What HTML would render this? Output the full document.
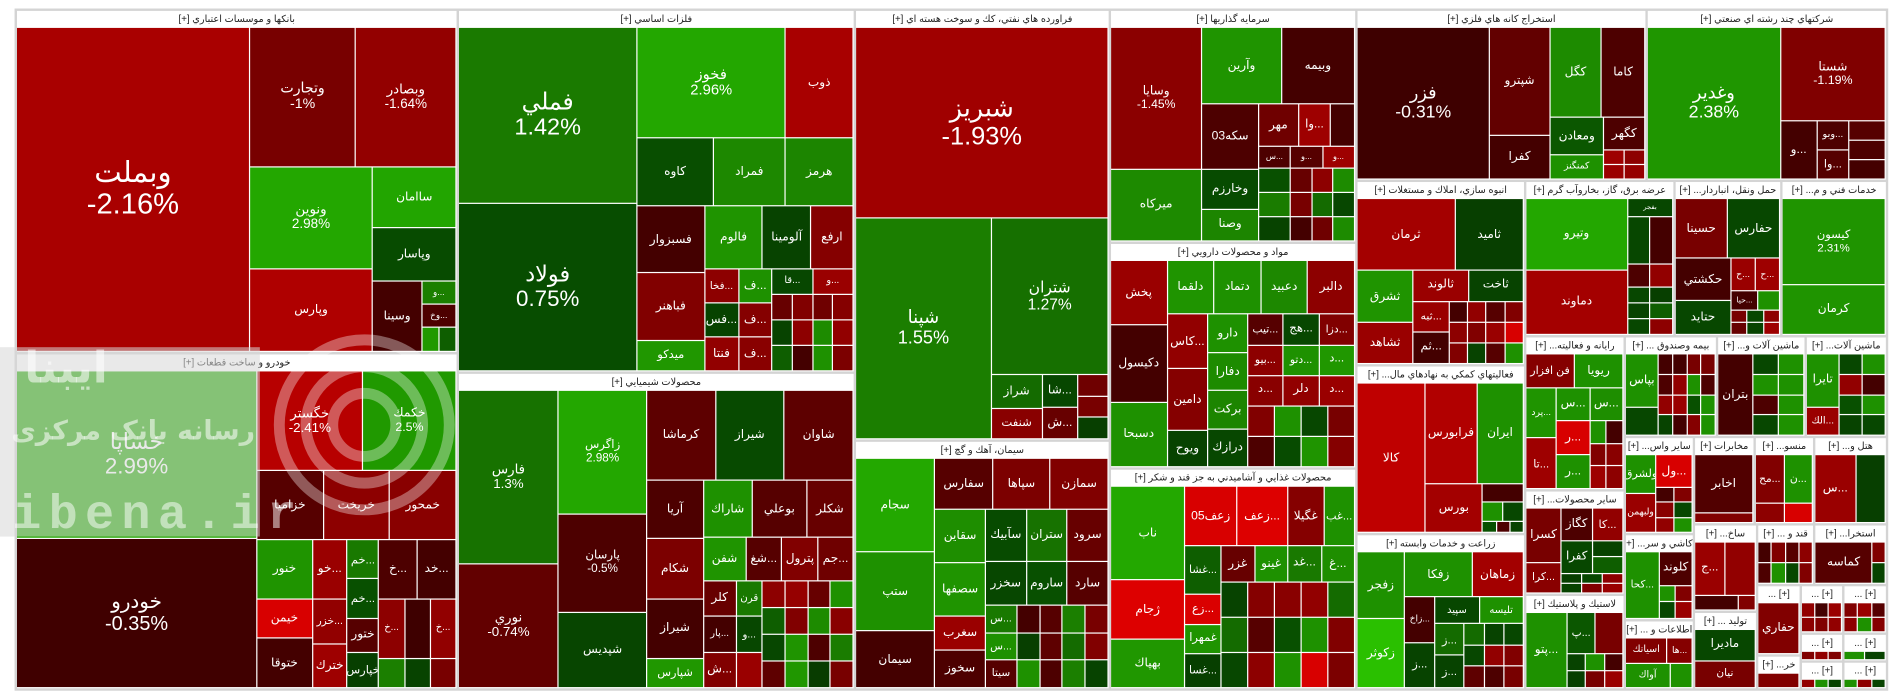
<!DOCTYPE html>
<html><head><meta charset="utf-8">
<style>
html,body{margin:0;padding:0;background:#fff;width:1904px;height:698px;overflow:hidden}
#tm{position:absolute;left:0;top:0;width:1568px;height:575px;transform:scale(1.21429,1.21391);transform-origin:0 0;font-family:"Liberation Sans","DejaVu Sans",sans-serif}
#frame{position:absolute;left:12px;top:7px;width:1543px;height:562px;background:#d4d4d4}
.sec{position:absolute;background:#fff;overflow:hidden}
.hdr{position:absolute;left:0;top:0;right:0;height:14px;font-size:8px;line-height:14px;text-align:center;direction:rtl;color:#222;white-space:nowrap;overflow:hidden;background:#fff}
.cell{position:absolute;overflow:hidden;color:#fff;display:flex;flex-direction:column;align-items:center;justify-content:center;text-align:center;line-height:1.1;white-space:nowrap}
.wm{position:absolute;pointer-events:none}
</style></head><body>
<div id="tm"><div id="frame"></div>
<div class="wm" style="left:0;top:286px;width:214px;height:156px;background:rgba(215,215,215,0.55)"></div>
<svg class="wm" style="left:0;top:270px" width="400" height="190">
<g fill="none" stroke="rgba(255,255,255,0.35)" stroke-width="9"><circle cx="300" cy="80" r="70"/><circle cx="300" cy="80" r="48"/><circle cx="300" cy="80" r="26"/></g>
<text x="20" y="45" font-size="36" font-weight="bold" fill="rgba(255,255,255,0.55)" font-family="DejaVu Sans">ايبنا</text>
<text x="10" y="92" font-size="22" font-weight="bold" fill="rgba(255,255,255,0.55)" font-family="DejaVu Sans" direction="rtl" text-anchor="start" transform="translate(200,0)">رسانه بانک مرکزی</text>
<text x="10" y="165" font-size="40" font-weight="bold" fill="rgba(255,255,255,0.5)" font-family="Liberation Mono" letter-spacing="6">ibena.ir</text>
</svg>
</div>
<script>
// sector titles
const sectorNames=["بانكها و موسسات اعتباري [+]","خودرو و ساخت قطعات [+]","فلزات اساسي [+]","محصولات شيميايي [+]","فراورده هاي نفتي، كك و سوخت هسته اي [+]","سيمان، آهك و گچ [+]","سرمايه گذاريها [+]","مواد و محصولات دارويي [+]","محصولات غذايي و آشاميدني به جز قند و شكر [+]","استخراج كانه هاي فلزي [+]","شركتهاي چند رشته اي صنعتي [+]","انبوه سازي، املاك و مستغلات [+]","فعاليتهاي كمكي به نهادهاي مال... [+]","زراعت و خدمات وابسته [+]","عرضه برق، گاز، بخاروآب گرم [+]","حمل ونقل، انباردار... [+]","خدمات فني و م... [+]","رايانه و فعاليته... [+]","ساير محصولات... [+]","لاستيك و پلاستيك [+]","بيمه وصندوق ... [+]","ماشين آلات و... [+]","ماشين آلات... [+]","ساير واس... [+]","مخابرات [+]","منسو... [+]","هتل و... [+]","كاشي و سر... [+]","اطلاعات و ... [+]","ساخ... [+]","توليد ... [+]","قند و ... [+]","استخرا... [+]","[+] ...","[+] ...","[+] ...","[+] ...","[+] ...","خر... [+]","[+] ...","[+] ..."];
// sector boxes [x,y,w,h] (display units)
const sectorBoxes=[[13,8,364,283],[13,291,364,277],[377,8,327,299],[377,307,327,261],[704,8,210,355],[704,363,210,205],[914,8,203,192],[914,200,203,186],[914,386,203,182],[1117,8,239,141],[1356,8,198,141],[1117,149,139,152],[1117,301,139,139],[1117,440,139,128],[1256,149,123,128],[1379,149,88,128],[1467,149,87,128],[1256,277,82,127],[1256,404,82,86],[1256,490,82,78],[1338,277,76,83],[1414,277,73,83],[1487,277,67,83],[1338,360,57,80],[1395,360,50,72],[1445,360,49,72],[1494,360,60,72],[1338,440,57,71],[1338,511,57,57],[1395,432,52,72],[1395,504,52,64],[1447,432,47,50],[1494,432,60,50],[1447,482,36,58],[1483,482,35,40],[1518,482,36,40],[1483,522,35,23],[1518,522,36,23],[1447,540,36,28],[1483,545,35,23],[1518,545,36,23]];
// trees: leaf = [symbol, change%, weight]; node = {d:'h'|'v'|'g', w, c}
const sectorTrees=[
{d:'h',c:[['وبملت',-2.16,193],{d:'v',w:171,c:[{d:'h',w:116,c:[['وتجارت',-1,88],['وبصادر',-1.64,83]]},{d:'h',w:153,c:[{d:'v',w:102,c:[['ونوين',2.98,84],['وپارس',-2.28,69]]},{d:'v',w:69,c:[['ساامان',2.9,50],['وپاسار',0.7,45],{d:'h',w:58,c:[['وسينا',-0.4,40],{d:'v',w:28,c:[['و...',1.6,17],['وخ...',-0.5,17],{d:'h',w:18,c:[['',2.5,1],['',1,1]]}]}]}]}]}]}]},
{d:'h',c:[{d:'v',w:199,c:[['خساپا',2.99,139],['خودرو',-0.35,124]]},{d:'v',w:165,c:[{d:'h',w:83,c:[['خگستر',-2.41,88],['خكمك',2.5,77]]},{d:'h',w:57,c:[['خزاميا',-0.6,55],['خريخت',-1.5,55],['خمحور',-1.4,55]]},{d:'h',w:123,c:[{d:'v',w:46,c:[['خنور',2.3,30],['خيمن',-3,20],['ختوقا',-0.4,25]]},{d:'v',w:29,c:[['خو...',-1.8,30],['خزر...',-1.6,23],['خترك',-1.9,22]]},{d:'v',w:26,c:[['خم...',1.4,20],['خم...',0.8,20],['ختور',-0.6,17],['خپارس',0.4,18]]},{d:'v',w:64,c:[{d:'h',w:30,c:[['خ...',-0.5,1],['خد...',-0.4,1]]},{d:'h',w:30,c:[['خ...',-1.5,1],['',-0.3,1],['خ...',-1.6,1]]},{d:'h',w:15,c:[['',1.6,1],['',0.5,1],['',-1,1]]}]}]}]}]},
{d:'h',c:[{d:'v',w:148,c:[['فملي',1.42,146],['فولاد',0.75,139]]},{d:'v',w:179,c:[{d:'h',w:92,c:[['فخوز',2.96,123],['ذوب',-2.13,56]]},{d:'h',w:56,c:[['كاوه',0.77,63],['فمراد',1.9,60],['هرمز',1.8,56]]},{d:'h',w:137,c:[{d:'v',w:56,c:[['فسبزوار',-0.4,56],['فباهنر',-1.2,57],['ميدكو',2.4,25]]},{d:'v',w:123,c:[{d:'h',w:52,c:[['فالوم',2.3,48],['آلومينا',0.5,40],['ارفع',-1.3,35]]},{d:'h',w:85,c:[{d:'v',w:28,c:[['فخا...',-1.5,1],['فس...',0.5,1],['فنتا',-1.6,1]]},{d:'v',w:28,c:[['ف...',2.2,1],['ف...',-1.3,1],['ف...',-1.4,1]]},{d:'v',w:67,c:[{d:'h',w:1,c:[['قا...',0.6,1],['و...',-1.8,1]]},{d:'g',w:3,cols:4,c:[-0.8,-1.2,-0.9,-1.3,0.5,-1.5,2,-1.6,1,-0.4,2.2,-1.1]}]}]}]}]}]}]},
{d:'h',c:[{d:'v',w:83,c:[['فارس',1.3,142],['نوري',-0.74,102]]},{d:'v',w:73,c:[['زاگرس',2.98,102],['پارسان',-0.5,80],['شپديس',0.55,62]]},{d:'v',w:171,c:[{d:'h',w:74,c:[['كرماشا',-0.69,57],['شيراز',0.66,57],['شاوان',-0.69,57]]},{d:'h',w:170,c:[{d:'v',w:47,c:[['آريا',-0.5,49],['شكام',-1.1,52],['شيراز',-0.4,50],['شپارس',2.4,25]]},{d:'v',w:124,c:[{d:'h',w:47,c:[['شاراك',2.2,40],['بوعلي',-0.6,45],['شكلر',-0.8,38]]},{d:'h',w:35,c:[['شفن',2.3,35],['شغ...',-0.6,30],['پترول',-1.2,30],['جم...',-0.9,29]]},{d:'h',w:88,c:[{d:'v',w:27,c:[['كلر',-0.8,1],['پار...',-0.4,1],['ش...',-1.2,1]]},{d:'v',w:22,c:[['قرن',1.4,1],['و...',0.6,1],['',-1.8,1]]},{d:'g',w:75,cols:4,c:[-1.5,-1.7,-0.8,2.2,1,-1.2,2,-1.4,0.6,2.3,-0.5,1.5,-0.7,2.4,0.3,-1]}]}]}]}]}]},
{d:'v',c:[['شبريز',-1.93,158],{d:'h',w:183,c:[['شپنا',1.55,113],{d:'v',w:97,c:[['شتران',1.27,130],{d:'h',w:53,c:[{d:'v',w:42,c:[['شراز',1.2,28],['شنفت',-1.4,25]]},{d:'v',w:30,c:[['شا...',0.6,1],['ش...',-0.8,1]]},{d:'v',w:25,c:[['',-0.9,1],['',-1,1],['',0.4,1]]}]}]}]}]},
{d:'h',c:[{d:'v',w:66,c:[['سجام',2.99,78],['ستپ',2.2,66],['سيمان',-0.4,47]]},{d:'v',w:144,c:[{d:'h',w:42,c:[['سفارس',-0.6,1],['سپاها',-1.1,1],['سمازن',-1.2,1]]},{d:'h',w:149,c:[{d:'v',w:42,c:[['سقاين',2.1,40],['سصفها',2.3,40],['سغرب',-1.8,25],['سخوز',-0.5,28]]},{d:'v',w:102,c:[{d:'h',w:36,c:[['سآبيك',0.7,1],['ستران',1.3,1],['سرود',-0.8,1]]},{d:'h',w:30,c:[['سخزر',0.6,1],['ساروم',0.8,1],['سارد',-0.6,1]]},{d:'h',w:56,c:[{d:'v',w:26,c:[['س...',1.4,1],['س...',2.2,1],['سيتا',-0.6,1]]},{d:'g',w:76,cols:4,c:[-0.4,-0.6,1.6,-1,0.4,-0.7,1.2,-1.2,2.2,-0.5,1.6,0.5]}]}]}]}]}]},
{d:'h',c:[{d:'v',w:76,c:[['وسايا',-1.45,118],['ميركاه',1.96,60]]},{d:'v',w:127,c:[{d:'h',w:64,c:[['وآرين',2.3,66],['وبيمه',-0.4,61]]},{d:'h',w:114,c:[{d:'v',w:47,c:[['سكه03',-0.5,54],['وخارزم',0.7,34],['وصنا',1.8,26]]},{d:'v',w:80,c:[{d:'h',w:35,c:[['مهر',-0.9,1],['وا...',-1.9,0.8],['',-0.4,0.6]]},{d:'h',w:18,c:[['س...',-0.5,1],['و...',-0.6,1],['و...',-1.9,1]]},{d:'h',w:61,c:[{d:'v',w:1,c:[['',0.8,1],['',1.5,1],['',0.5,1]]},{d:'g',w:2,cols:3,c:[-0.8,-1.5,2,-1,1.2,0.6,-0.4,-0.9,2]}]}]}]}]}]},
{d:'h',c:[{d:'v',w:47,c:[['پخش',-1.8,54],['دكيسول',-0.4,64],['دسبحا',2.2,54]]},{d:'v',w:156,c:[{d:'h',w:45,c:[['دلقما',2.3,1],['دتماد',2.2,1],['دعبيد',1.9,1],['دالبر',-1.5,1]]},{d:'h',w:127,c:[{d:'v',w:34,c:[['كاس...',-1.6,40],['دامين',-1.3,45],['ويوح',0.5,27]]},{d:'v',w:33,c:[['دارو',2.2,1],['دفارا',2.0,1],['بركت',1.8,1],['درازك',0.6,1]]},{d:'v',w:89,c:[{d:'h',w:1,c:[['تيب...',-0.6,1],['هج...',0.6,1],['دزا...',-1.2,1]]},{d:'h',w:1,c:[['بيو...',-1.5,1],['دتو...',2.2,1],['د...',2.4,1]]},{d:'h',w:1,c:[['د...',-1.4,1],['دلر',-1.6,1],['د...',-1.8,1]]},{d:'g',w:2,cols:4,c:[-1.2,2.2,0.6,-1,-0.5,0.7,2.3,-1.3]}]}]}]}]},
{d:'h',c:[{d:'v',w:62,c:[['ناب',2.99,78],['ژجام',-3.2,50],['بهپاك',2.4,40]]},{d:'v',w:141,c:[{d:'h',w:50,c:[['زعف05',-3,1],['زعف...',-3.2,1],['غگيلا',-1.3,0.7],['غب...',2.2,0.6]]},{d:'h',w:118,c:[{d:'v',w:30,c:[['غشا...',1,40],['زع...',-3.1,25],['غمهرا',2.3,25],['غسا...',0.4,28]]},{d:'v',w:111,c:[{d:'h',w:1,c:[['غزر',-0.8,1],['غينو',2.2,1],['غد...',1.4,1],['غ...',2.1,1]]},{d:'g',w:3,cols:5,c:[0.5,-1.3,-1.4,-1.6,1.2,1.2,-0.6,0.8,2.2,-1.2,0.6,-1.5,2.2,-3,-1.1]}]}]}]}]},
{d:'h',c:[['فزر',-0.31,110],{d:'v',w:50,c:[['شپترو',-0.75,90],['كفرا',-0.4,37]]},{d:'v',w:79,c:[{d:'h',w:75,c:[['كگل',2.0,43],['كاما',-0.5,36]]},{d:'h',w:52,c:[{d:'v',w:45,c:[['ومعادن',0.9,32],['كمنگنز',2.2,20]]},{d:'v',w:34,c:[['كگهر',-0.5,28],{d:'g',w:24,cols:2,c:[-1.9,-1.5,-1.8,-1.7]}]}]}]}]},
{d:'h',c:[['وغدير',2.38,111],{d:'v',w:87,c:[['شستا',-1.19,78],{d:'h',w:49,c:[{d:'v',w:30,c:[['و...',-0.4,1]]},{d:'v',w:27,c:[['وبو...',-0.5,1],['وا...',-0.6,1]]},{d:'v',w:30,c:[['',-0.6,1],['',-0.5,1],['',-0.4,1]]}]}]}]},
{d:'v',c:[{d:'h',w:60,c:[['ثرمان',-2.04,82],['ثاميد',0.4,57]]},{d:'h',w:78,c:[{d:'v',w:47,c:[['ثشرق',2.3,44],['ثشاهد',-1.8,34]]},{d:'v',w:92,c:[{d:'h',w:26,c:[['ثالوند',-1.8,1],['ثاخت',0.5,1]]},{d:'h',w:52,c:[{d:'v',w:30,c:[['ثبه...',-1.8,1],['ثم...',-0.4,1]]},{d:'g',w:62,cols:4,c:[-0.4,-1.6,-0.6,-1.2,-1.5,-1.2,-1.8,-3,-1.2,0.5,-0.6,2.2]}]}]}]}]},
{d:'h',c:[['كالا',-2.55,57],{d:'v',w:82,c:[{d:'h',w:84,c:[['فرابورس',-2.3,1],['ايران',2.2,0.9]]},{d:'h',w:41,c:[['بورس',-2,48],{d:'v',w:34,c:[['',-0.4,1],{d:'h',w:1,c:[['',2.2,1],['',0.6,1]]},{d:'h',w:0.6,c:[['',0.8,1],['',-0.5,1],['',0.5,1]]}]}]}]}]},
{d:'h',c:[{d:'v',w:40,c:[['زفجر',2.2,56],['زكوثر',3.6,58]]},{d:'v',w:99,c:[{d:'h',w:38,c:[['زفكا',2.2,56],['زماهان',-2,43]]},{d:'h',w:76,c:[{d:'v',w:25,c:[['زاخ...',-0.4,1],['ز...',0.5,1]]},{d:'v',w:74,c:[{d:'h',w:22,c:[['سپيد',0.6,1],['تليسه',2.2,1]]},{d:'h',w:54,c:[{d:'v',w:1,c:[['ز...',1.2,1],['ز...',0.5,1]]},{d:'g',w:2,cols:3,c:[1.2,0.5,0.6,0.6,-1.6,-1.2,-0.7,-0.5,-1]}]}]}]}]}]},
{d:'h',c:[{d:'v',w:85,c:[['وتيرو',2.98,60],['دماوند',-2.04,54]]},{d:'v',w:38,c:[['بفجر',0.6,15],{d:'h',w:40,c:[['',0.6,1],['',-0.4,1]]},{d:'h',w:20,c:[['',-0.5,1],['',-1.6,1]]},{d:'g',w:40,cols:2,c:[0.6,0.4,0.5,1,0.6,-1.5]}]}]},
{d:'v',c:[{d:'h',w:50,c:[['حسينا',-1,1],['حفارس',0.6,1]]},{d:'h',w:64,c:[{d:'v',w:47,c:[['حكشتي',-0.4,36],['حتايد',0.6,28]]},{d:'v',w:41,c:[{d:'h',w:27,c:[['ح...',-1.8,1],['ح...',-1.9,1]]},{d:'h',w:17,c:[['حيا...',-0.4,1],['',2.2,0.8]]},{d:'g',w:20,cols:3,c:[-1,0.6,-1.5,-0.8,0.5,-1.9]}]}]}]},
{d:'v',c:[['كيسون',2.31,72],['كرمان',2.3,42]]},
{d:'v',c:[{d:'h',w:28,c:[['فن افزار',-1.3,1],['ريويا',2.2,1]]},{d:'h',w:85,c:[{d:'v',w:26,c:[['پرد...',2.3,1],['تا...',-1.9,1]]},{d:'v',w:56,c:[{d:'h',w:28,c:[['س...',2.2,1],['س...',2.1,1]]},{d:'h',w:57,c:[{d:'v',w:1,c:[['ر...',-3,1],['ر...',2.2,1]]},{d:'g',w:1,cols:2,c:[2.2,-0.4,-1.2,-1.4,-1.9,-1.5]}]}]}]}]},
{d:'h',c:[{d:'v',w:30,c:[['كسرا',-1,46],['كرا...',-1.4,26]]},{d:'v',w:52,c:[{d:'h',w:1,c:[['كگاز',-0.5,1],['كا...',-1.6,1]]},{d:'h',w:1,c:[['كفرا',0.6,1],{d:'v',w:1,c:[['',0.5,1],['',1,1]]}]},{d:'g',w:0.6,cols:3,c:[0.4,0.6,-1.5,0.5,-1.2,-1.8]}]}]},
{d:'h',c:[['پتو...',2.2,35],{d:'v',w:47,c:[{d:'h',w:30,c:[['پ...',0.9,1],['',-1,1]]},{d:'g',w:25,cols:3,c:[0.5,2.2,-0.4,0.4,-1,-1.8]}]}]},
{d:'h',c:[{d:'v',w:28,c:[['بپاس',2.2,45],['',0.6,24]]},{d:'g',w:48,cols:4,c:[-0.4,-0.4,-1,-1,-0.5,-1.6,2.2,-0.5,-1.6,-1.8,0.8,2.2,0.5,-0.4,-1.3,2.2]}]},
{d:'h',c:[['بتران',-0.4,30],{d:'g',w:43,cols:2,c:[0.6,2.2,2.2,2.2,-0.5,2.2,0.6,2.2]}]},
{d:'h',c:[{d:'v',w:28,c:[['تايرا',2.2,45],['الك...',-1.8,24]]},{d:'g',w:39,cols:2,c:[0.6,2.2,-1.6,-0.4,0.8,2.2,0.5,0.6]}]},
{d:'h',c:[{d:'v',w:26,c:[['ولشرق',2.2,1],['ولبهمن',-1.8,1]]},{d:'v',w:31,c:[['ول...',-3,22],{d:'g',w:30,cols:2,c:[-0.4,-1.2,-1.4,0.6,-1.6,2.2]}]}]},
{d:'v',c:[['اخابر',-0.55,50],['',-1.2,8]]},
{d:'h',c:[{d:'v',w:25,c:[['مح...',-1.2,1],['',-1.5,0.4]]},{d:'v',w:24,c:[['ن...',2.2,1],['',-3,0.4]]}]},
{d:'h',c:[['س...',-1.8,35],['',0.4,25]]},
{d:'h',c:[['كحا...',2.2,29],{d:'v',w:28,c:[['كلوند',-0.5,1],{d:'g',w:1,cols:2,c:[2.2,-1.2,0.6,-1.8]}]}]},
{d:'v',c:[{d:'h',w:1,c:[['اسياتك',-1.2,1],['ها...',-1.3,0.6]]},{d:'h',w:1,c:[['آواك',2.2,1],['',2.2,0.5]]}]},
{d:'v',c:[{d:'h',w:46,c:[['ج...',-1.8,1],['',-1.6,1]]},{d:'h',w:12,c:[['',-0.4,1],['',-1.2,0.4]]}]},
{d:'v',c:[['ماديرا',0.6,34],['نيان',-1,30]]},
{d:'g',cols:4,c:[-0.4,-1.2,-0.6,-1.5,-0.5,2.2,0.6,-1.2]},
{d:'h',c:[['كماسه',-0.6,45],{d:'v',w:10,c:[['',-1.2,1],['',0.5,1]]}]},
{d:'v',c:[['حفاري',-1.2,1]]},
{d:'g',cols:3,c:[-1.6,-0.4,-1.8,-1.5,-1.2,-1.6]},
{d:'g',cols:3,c:[-1.2,-1.8,-0.6,-1.5,2.2,-1.3]},
{d:'g',cols:3,c:[-1.2,-1.6,-1.2]},
{d:'g',cols:2,c:[2.2,0.5]},
{d:'v',c:[['قا...',-1.2,1]]},
{d:'g',cols:3,c:[-1.6,2.2,0.5]},
{d:'g',cols:3,c:[2.2,-1.5,0.5]}
];

function lerp(a,b,t){return Math.round(a+(b-a)*t);}
const posStops=[[0,[8,48,0]],[0.75,[7,77,0]],[1.42,[26,122,0]],[3,[35,168,0]],[4,[46,208,0]]];
const negStops=[[0,[48,0,0]],[0.35,[64,0,0]],[1,[120,0,0]],[2.2,[171,0,0]],[3,[216,0,0]],[4,[240,0,0]]];
function color(ch){
  const s=ch>=0?posStops:negStops; const v=Math.min(Math.abs(ch),4);
  for(let i=1;i<s.length;i++){ if(v<=s[i][0]){const t=(v-s[i-1][0])/(s[i][0]-s[i-1][0]);const a=s[i-1][1],b=s[i][1];return `rgb(${lerp(a[0],b[0],t)},${lerp(a[1],b[1],t)},${lerp(a[2],b[2],t)})`;}}
  const c=s[s.length-1][1]; return `rgb(${c[0]},${c[1]},${c[2]})`;
}
function wt(n){return Array.isArray(n)?n[2]:(n.w===undefined?1:n.w);}
function layout(n,x,y,w,h,out){
  if(Array.isArray(n)){out.push({s:n[0],c:n[1],x,y,w,h});return;}
  if(n.d==='g'){const cols=n.cols,rows=Math.ceil(n.c.length/cols);
    n.c.forEach((ch,i)=>{const r=Math.floor(i/cols),k=i%cols;out.push({s:'',c:ch,x:x+k*w/cols,y:y+r*h/rows,w:w/cols,h:h/rows});});return;}
  const tot=n.c.reduce((a,c)=>a+wt(c),0);let off=0;
  n.c.forEach(c=>{const f=wt(c)/tot;
    if(n.d==='h'){layout(c,x+off*w,y,f*w,h,out);} else {layout(c,x,y+off*h,w,f*h,out);} off+=f;});
}
const tm=document.getElementById('tm');
sectorBoxes.forEach((b,si)=>{
  const sec=document.createElement('div');
  sec.className='sec';
  
  
  sec.style.left=(b[0]+1)+'px';sec.style.top=(b[1]+1)+'px';sec.style.width=(b[2]-2)+'px';sec.style.height=(b[3]-2)+'px';
  const hd=document.createElement('div');hd.className='hdr';hd.textContent=sectorNames[si];
  
  
  sec.appendChild(hd);
  const out=[];layout(sectorTrees[si],0,14,b[2]-2,b[3]-16,out);
  out.forEach(c=>{
    const el=document.createElement('div');el.className='cell';
    
    
    el.style.left=c.x+'px';el.style.top=c.y+'px';
    el.style.width=Math.max(c.w-1,0)+'px';el.style.height=Math.max(c.h-1,0)+'px';
    el.style.background=color(c.c);
    const m=Math.min(c.w,c.h);
    if(c.s){
      if(m>=70){let fs=Math.min(24,Math.max(9,m/7.5));fs=Math.min(fs,c.w/(Math.max(c.s.length,5)*0.55));
        el.style.fontSize=fs+'px';el.innerHTML='<span>'+c.s+'</span><span>'+(Math.round(c.c*100)/100)+'%</span>';}
      else if(m>=14){const fs=Math.min(10,m/2.6,c.w/(c.s.length*0.55));el.style.fontSize=fs+'px';el.textContent=c.s;}
    }
    sec.appendChild(el);
  });
  tm.insertBefore(sec,tm.querySelector('.wm'));
});
</script>
</body></html>
